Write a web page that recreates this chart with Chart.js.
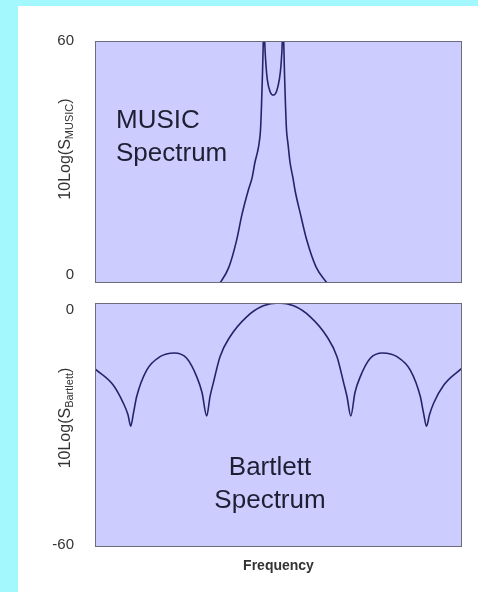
<!DOCTYPE html>
<html>
<head>
<meta charset="utf-8">
<script src="https://cdn.jsdelivr.net/npm/chart.js@4.4.1/dist/chart.umd.min.js"></script>
<style>
  html, body { margin: 0; padding: 0; }
  body { width: 478px; height: 592px; background: #a2f8fc; position: relative; overflow: hidden; }
  #sheet { position: absolute; left: 18px; top: 6px; width: 460px; height: 586px; background: #ffffff; }
  canvas { position: absolute; left: 0; }
  #musicChart { top: 0; }
  #bartlettChart { top: 295px; }
</style>
</head>
<body>
<div id="sheet"></div>
<canvas id="musicChart" width="478" height="295"></canvas>
<canvas id="bartlettChart" width="478" height="297"></canvas>
<script>
// Normalised frequency (0..100 across the band) and spectrum levels in dB
const musicFrequency = [0, 14.99, 28.61, 34.06, 36.51, 38.61, 40.05, 41.77, 42.78, 43.60, 44.28, 44.69,
  45.10, 45.37, 45.64, 45.86, 46.05, 46.24, 46.59, 46.95, 47.68, 48.58, 49.46, 50.22, 50.68,
  51.04, 51.23, 51.42, 51.63, 51.91, 52.18, 52.59, 53.13, 53.95, 54.50, 56.00, 57.68, 60.22,
  63.22, 68.66, 83.11, 100];
const musicDb = [-40, -22, -7, 0, 4, 10.7, 17, 23, 26, 30, 32.5, 34.5,
  38, 44, 52, 60, 68, 60, 54, 50.4, 47.5, 46.6, 47.5, 50.4, 54,
  60, 68, 60, 52, 44, 38, 34.5, 30, 26, 23, 17, 10.7, 4,
  0, -7, -22, -40];

const bartlettFrequency = [0, 4.90, 7.71, 8.99, 9.73, 10.49, 11.36, 14.09, 17.71, 21.61, 24.99,
  27.71, 29.16, 30.44, 31.34, 32.23, 34.06, 36.78, 41.33, 45.86, 50, 54.14, 58.67, 63.22,
  65.94, 67.77, 68.66, 69.70, 70.84, 72.29, 75.01, 78.39, 82.29, 85.91, 88.64, 89.51,
  90.33, 91.14, 92.29, 95.10, 100];
const bartlettDb = [-16.2, -20.1, -24.6, -27.5, -30.3, -27, -23, -16.5, -13.2, -12.3, -13.6,
  -18.1, -22, -27.8, -23, -19.7, -13.2, -8.3, -3.4, -0.7, 0, -0.7, -3.4, -8.3,
  -13.2, -19.7, -23, -27.8, -22, -18.1, -13.6, -12.3, -13.2, -16.5, -23, -27,
  -30.3, -27.5, -24.6, -20.1, -16];

const musicTicks = [0, 60];
const bartlettTicks = [-60, 0];

const FONT = '"Liberation Sans", Arial, Helvetica, sans-serif';
const CURVE = '#24246a';
const PANEL = '#ccccff';
const FRAME = '#6c6c7c';

// Fills the plot panel and outlines it
const panelPlugin = {
  id: 'panel',
  beforeDatasetsDraw(chart) {
    const { ctx, chartArea: a } = chart;
    ctx.save();
    ctx.fillStyle = PANEL;
    ctx.fillRect(a.left, a.top, a.right - a.left, a.bottom - a.top);
    ctx.restore();
  },
  afterDatasetsDraw(chart) {
    const { ctx, chartArea: a } = chart;
    ctx.save();
    ctx.strokeStyle = FRAME;
    ctx.lineWidth = 1;
    ctx.strokeRect(a.left + 0.5, a.top + 0.5, a.right - a.left - 1, a.bottom - a.top - 1);
    ctx.restore();
  }
};

// Moves the end tick labels slightly inward from the panel edges
const tickNudgePlugin = {
  id: 'tickNudge',
  beforeDraw(chart, args, opts) {
    const scale = chart.scales.y;
    const items = scale.getLabelItems(chart.chartArea);
    items.forEach((item, i) => {
      const shift = opts[scale.ticks[i].value];
      if (shift && !item._nudged) {
        item.options.translation[1] += shift;
        item._nudged = true;
      }
    });
  }
};

// Rotated y-axis title with a subscript, plus the caption inside the panel
const labelPlugin = {
  id: 'labels',
  afterDraw(chart, args, opts) {
    const { ctx, chartArea: a } = chart;
    ctx.save();
    const mainFont = '16px ' + FONT;
    const subFont = '11px ' + FONT;
    ctx.font = mainFont;
    const w1 = ctx.measureText(opts.titleMain).width;
    const w3 = ctx.measureText(')').width;
    ctx.font = subFont;
    const w2 = ctx.measureText(opts.titleSub).width;
    const total = w1 + w2 + w3;
    ctx.translate(opts.titleX, a.top + opts.titleY);
    ctx.rotate(-Math.PI / 2);
    ctx.fillStyle = '#333333';
    ctx.textBaseline = 'middle';
    ctx.textAlign = 'left';
    let x = -total / 2;
    ctx.font = mainFont;
    ctx.fillText(opts.titleMain, x, 0);
    x += w1;
    ctx.font = subFont;
    ctx.fillText(opts.titleSub, x, 4);
    x += w2;
    ctx.font = mainFont;
    ctx.fillText(')', x, 0);
    ctx.restore();

    ctx.save();
    ctx.fillStyle = '#1f1f33';
    ctx.font = '26px ' + FONT;
    ctx.textBaseline = 'alphabetic';
    ctx.textAlign = opts.captionAlign;
    opts.caption.forEach((line, i) => {
      ctx.fillText(line, a.left + opts.captionX, a.top + opts.captionY + i * 33);
    });
    ctx.restore();
  }
};

function points(xs, ys) {
  return xs.map((x, i) => ({ x, y: ys[i] }));
}

function makeChart(id, xs, ys, tickValues, padding, xAxis, labels, nudge) {
  return new Chart(document.getElementById(id), {
    type: 'line',
    data: {
      datasets: [{
        data: points(xs, ys),
        borderColor: CURVE,
        borderWidth: 1.6,
        pointRadius: 0,
        fill: false,
        cubicInterpolationMode: 'monotone',
        clip: 0
      }]
    },
    options: {
      responsive: false,
      animation: false,
      events: [],
      layout: { padding },
      plugins: { legend: { display: false }, tooltip: { enabled: false }, labels, tickNudge: nudge },
      scales: {
        x: Object.assign({
          type: 'linear',
          min: 0,
          max: 100,
          grid: { display: false },
          border: { display: false },
          ticks: { display: false }
        }, xAxis),
        y: {
          type: 'linear',
          min: tickValues[0],
          max: tickValues[tickValues.length - 1],
          afterBuildTicks: (scale) => { scale.ticks = tickValues.map(v => ({ value: v })); },
          afterFit: (scale) => {
            scale.width = 95;
            scale.paddingTop = 0;
            scale.paddingBottom = 0;
          },
          grid: { display: false },
          border: { display: false },
          ticks: {
            padding: 13,
            color: '#333333',
            font: { family: FONT, size: 15 }
          }
        }
      }
    },
    plugins: [panelPlugin, tickNudgePlugin, labelPlugin]
  });
}

makeChart('musicChart', musicFrequency, musicDb, musicTicks,
  { left: 0, right: 16, top: 41, bottom: 12 },
  { display: false },
  { titleMain: '10Log(S', titleSub: 'MUSIC', titleX: 66, titleY: 108,
    caption: ['MUSIC', 'Spectrum'], captionAlign: 'left', captionX: 21, captionY: 87 },
  { 0: -8 });

makeChart('bartlettChart', bartlettFrequency, bartlettDb, bartlettTicks,
  { left: 0, right: 16, top: 8, bottom: 0 },
  {
    display: true,
    afterFit: (scale) => { scale.height = 45; },
    title: {
      display: true,
      text: 'Frequency',
      color: '#333333',
      font: { family: FONT, size: 14, weight: 'bold' },
      padding: { top: 0, bottom: 17 }
    }
  },
  { titleMain: '10Log(S', titleSub: 'Bartlett', titleX: 66, titleY: 115,
    caption: ['Bartlett', 'Spectrum'], captionAlign: 'center', captionX: 175, captionY: 172 },
  { 0: 7, '-60': -2 });
</script>
</body>
</html>
